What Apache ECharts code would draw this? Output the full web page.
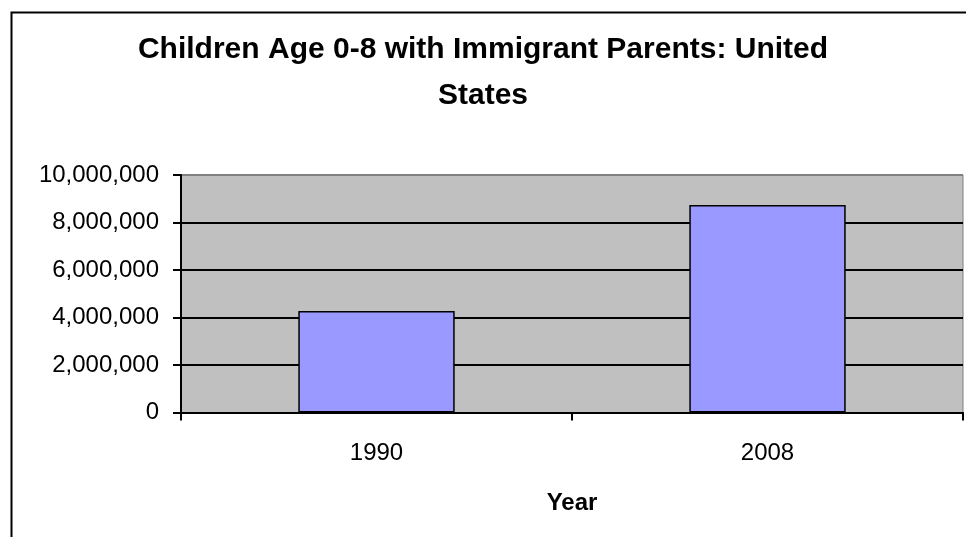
<!DOCTYPE html>
<html>
<head>
<meta charset="utf-8">
<script src="https://cdn.jsdelivr.net/npm/echarts@6/dist/echarts.min.js"></script>
<style>
html,body{margin:0;padding:0;background:#fff;}
#c{width:966px;height:537px;}
</style>
</head>
<body>
<div id="c"></div>
<script>
var categories = ['1990', '2008'];
var values = [4270000, 8740000];
var titleText = 'Children Age 0-8 with Immigrant Parents: United\nStates';
var xName = 'Year';

var chart = echarts.init(document.getElementById('c'), null, {renderer: 'canvas'});
var font = '"Liberation Sans", Arial, sans-serif';
chart.setOption({
  animation: false,
  backgroundColor: '#fff',
  title: {
    text: titleText,
    left: 'center',
    top: 22,
    textStyle: {fontFamily: font, fontSize: 30, fontWeight: 'bold', color: '#000', lineHeight: 46}
  },
  graphic: [{
    type: 'rect', left: 9, top: 10, z: 100,
    shape: {x: 0, y: 0, width: 1200, height: 800},
    style: {fill: 'none', stroke: '#000', lineWidth: 2}
  }],
  grid: {
    left: 181, top: 175, right: 3, bottom: 124.5,
    show: true, backgroundColor: '#C0C0C0', borderColor: '#808080', borderWidth: 1
  },
  xAxis: {
    type: 'category',
    data: categories,
    name: xName,
    nameLocation: 'middle',
    nameGap: 79,
    nameTextStyle: {fontFamily: font, fontSize: 24, fontWeight: 'bold', color: '#000'},
    axisLine: {lineStyle: {color: '#000', width: 2}},
    axisTick: {show: true, alignWithLabel: false, length: 8, lineStyle: {color: '#000', width: 2}},
    axisLabel: {fontFamily: font, fontSize: 24, color: '#000', margin: 29}
  },
  yAxis: {
    type: 'value',
    min: 0, max: 10000000, interval: 2000000,
    axisLine: {show: true, lineStyle: {color: '#000', width: 2}},
    axisTick: {show: true, length: 8, lineStyle: {color: '#000', width: 2}},
    axisLabel: {
      fontFamily: font, fontSize: 24, color: '#000', margin: 22,
      formatter: function (v) { return v.toLocaleString('en-US'); }
    },
    splitLine: {show: true, lineStyle: {color: ['#000', '#000', '#000', '#000', '#000', '#808080'], width: 2}}
  },
  series: [{
    type: 'bar',
    data: values,
    barWidth: '40%',
    itemStyle: {color: '#9999FF', borderColor: '#000', borderWidth: 1.5}
  }]
});
</script>
</body>
</html>
